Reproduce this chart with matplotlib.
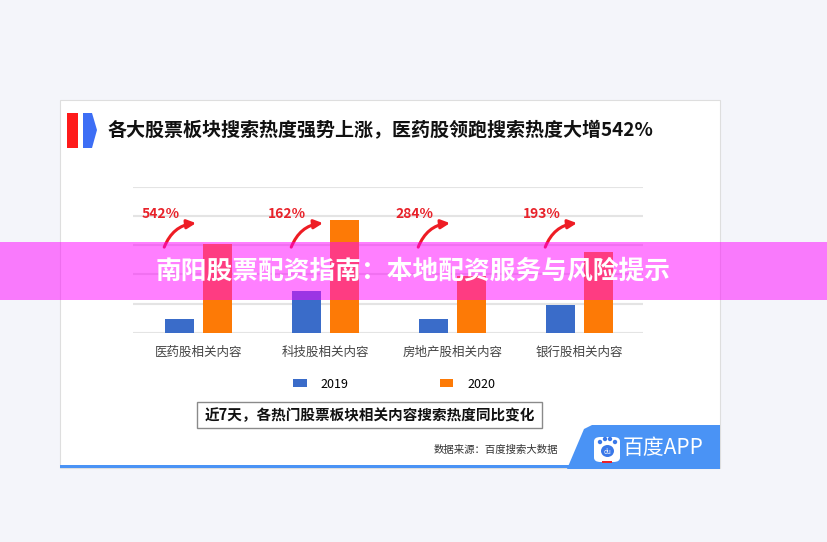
import matplotlib
matplotlib.use('Agg')
import matplotlib.pyplot as plt
from matplotlib.patches import Rectangle, Polygon, FancyBboxPatch, Ellipse

plt.rcParams['font.family'] = ['Noto Sans CJK SC', 'DejaVu Sans']

# 数据
categories = ['医药股相关内容', '科技股相关内容', '房地产股相关内容', '银行股相关内容']
heat_2019 = [7.2, 21.7, 7.2, 14.5]
heat_2020 = [45.5, 57.9, 29.0, 41.4]
growth = ['542%', '162%', '284%', '193%']
series_names = ['2019', '2020']

W, H = 827, 542
fig = plt.figure(figsize=(W / 100, H / 100), dpi=100)
fig.patch.set_facecolor('#f4f5fa')


def px(x, y):
    # 像素坐标 -> figure 坐标
    return (x / W, 1 - y / H)


def rect(x0, y0, x1, y1, **kw):
    p = Rectangle(px(x0, y1), (x1 - x0) / W, (y1 - y0) / H, transform=fig.transFigure, **kw)
    fig.add_artist(p)
    return p


def poly(pts, **kw):
    p = Polygon([px(x, y) for x, y in pts], closed=True, transform=fig.transFigure, **kw)
    fig.add_artist(p)
    return p


# 白色面板
rect(60, 100, 720, 468, facecolor='white', edgecolor='#dedede', lw=0.8, zorder=-5)

# 标题左侧标记
rect(67, 113, 78, 148, facecolor='#fe1a1a', edgecolor='none', zorder=1)
poly([(83, 113), (92, 113), (97, 130), (92, 148), (83, 148)], facecolor='#3d6ef5', edgecolor='none', zorder=1)
fig.text(*px(108, 131), '各大股票板块搜索热度强势上涨，医药股领跑搜索热度大增542%',
         fontsize=13.7, fontweight='bold', color='#111111', ha='left', va='center')

# 柱状图
ax = fig.add_axes([133 / W, 1 - 333 / H, 510 / W, (333 - 186.6) / H])
ax.set_facecolor('none')
x = list(range(len(categories)))
bw = 0.228
off = 0.15
b1 = ax.bar([i - off for i in x], heat_2019, width=bw, color='#3a6cc9', label=series_names[0], zorder=3)
b2 = ax.bar([i + off for i in x], heat_2020, width=bw, color='#fd7a06', label=series_names[1], zorder=3)
ax.set_xlim(-0.516, 3.5)
ax.set_ylim(0, 75)
ax.set_yticks(range(0, 76, 15))
ax.yaxis.grid(True, color='#e4e4e4', lw=1.5)
ax.set_axisbelow(True)
ax.set_yticklabels([])
ax.set_xticks(x)
ax.set_xticklabels(categories, fontsize=9, color='#444444')
ax.tick_params(length=0, pad=9)
for s in ax.spines.values():
    s.set_visible(False)

# 增长率标签和箭头
for i, g in enumerate(growth):
    ax.text(i - 0.3, 61, g, color='#e8222a', fontsize=10, fontweight='bold', ha='center', va='center')
    ax.annotate('', xy=(i - 0.02, 56.3), xytext=(i - 0.27, 44),
                arrowprops=dict(arrowstyle='-|>', color='#ee1c24', lw=2.2, mutation_scale=13,
                                connectionstyle='arc3,rad=-0.3', shrinkA=0, shrinkB=0))

# 图例
fig.legend(handles=[b1, b2], labels=series_names, loc='center', bbox_to_anchor=px(394, 384),
           ncol=2, frameon=False, fontsize=9, handlelength=1.1, handleheight=0.55,
           handletextpad=1.1, columnspacing=7.3)

# 副标题框
rect(197, 402, 542, 428, facecolor='white', edgecolor='#8a8a8a', lw=1, zorder=1)
fig.text(*px(370, 415), '近7天，各热门股票板块相关内容搜索热度同比变化',
         fontsize=10.5, fontweight='bold', color='#111111', ha='center', va='center', zorder=2)

# 数据来源
fig.text(*px(558, 450), '数据来源：百度搜索大数据', fontsize=7.5, color='#333333',
         ha='right', va='center')

# 百度APP 标志
rect(60, 465, 575, 468, facecolor='#4a93f5', edgecolor='none', zorder=1)
poly([(592, 425), (720, 425), (720, 469), (567, 469), (584, 429)],
     facecolor='#4a93f5', edgecolor='none', zorder=1)
icon = FancyBboxPatch(px(594, 462), 26 / W, 25 / H, boxstyle='round,pad=0,rounding_size=0.008',
                      transform=fig.transFigure, facecolor='white', edgecolor='none', zorder=2)
fig.add_artist(icon)
for cx, cy, r in [(600, 442, 2.2), (605, 439, 2.2), (610, 439, 2.2), (615, 442, 2.2)]:
    fig.add_artist(Ellipse(px(cx, cy), 2 * r / W, 2 * r / H, transform=fig.transFigure,
                           facecolor='#3a78e8', edgecolor='none', zorder=3))
fig.add_artist(Ellipse(px(607.5, 451), 13 / W, 12 / H, transform=fig.transFigure,
                       facecolor='#3a78e8', edgecolor='none', zorder=3))
fig.text(*px(607.5, 452), 'du', fontsize=4.5, color='white', ha='center', va='center', zorder=4)
rect(602, 461, 612, 463, facecolor='#e8222a', edgecolor='none', zorder=4)
fig.text(*px(623, 448), '百度APP', fontsize=15, color='white', ha='left', va='center', zorder=3)

# 粉色横幅
rect(0, 242, 827, 300, facecolor='#ff00ff', alpha=0.5, edgecolor='none', zorder=10)
fig.text(*px(413, 271), '南阳股票配资指南：本地配资服务与风险提示', fontsize=18.5,
         fontweight='bold', color='white', ha='center', va='center', zorder=11)

fig.savefig('out.png', dpi=100)
